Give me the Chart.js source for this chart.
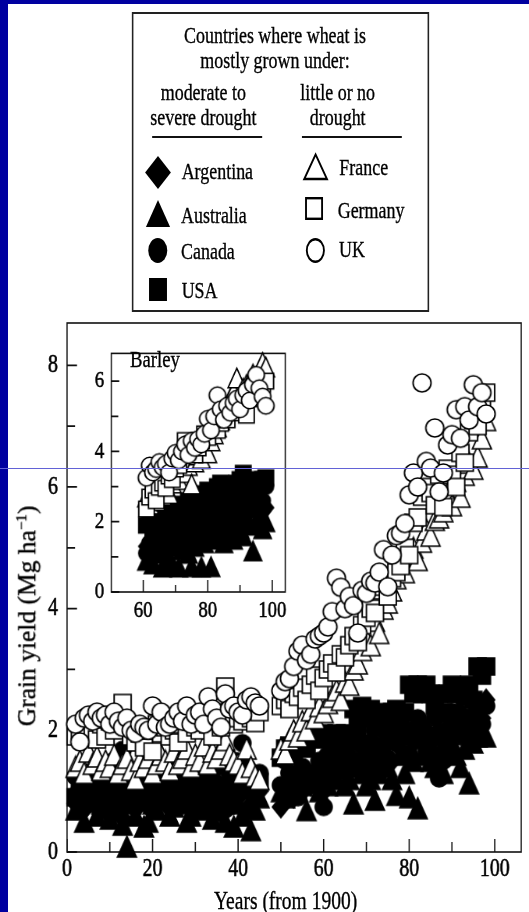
<!DOCTYPE html>
<html>
<head>
<meta charset="utf-8">
<script src="https://cdn.jsdelivr.net/npm/chart.js@4.4.1/dist/chart.umd.min.js"></script>
<style>
html,body{margin:0;padding:0;background:#0000a0;width:529px;height:912px;overflow:hidden;position:relative;}
#panel{position:absolute;left:8px;top:4px;width:521px;height:908px;background:#fff;}
#wrap{position:absolute;left:0;top:0;width:678px;height:912px;transform:scaleX(0.78024);transform-origin:0 0;}
.t{position:absolute;font-family:"Liberation Serif","Times New Roman",serif;color:#000;white-space:nowrap;line-height:1;-webkit-text-stroke:0.35px #000;}
.c{transform:translate(-50%,-50%);}
.l{transform:translateY(-50%);}
#legbox{position:absolute;left:169.2px;top:12px;width:380.7px;height:300px;border:2px solid #222;box-sizing:border-box;}
.rule{position:absolute;height:2.5px;background:#111;}
svg.sym{position:absolute;overflow:visible;}
#mainc{position:absolute;left:0;top:0;}
#insetc{position:absolute;left:89.7px;top:330px;}
#ytitle{position:absolute;left:27px;top:616px;font-family:"Liberation Serif","Times New Roman",serif;font-size:25.5px;line-height:1;white-space:nowrap;-webkit-text-stroke:0.35px #000;transform:translate(-50%,-50%) rotate(-90deg);}
#ytitle sup{font-size:15px;line-height:0;vertical-align:9px;}
#hline{position:absolute;left:0;top:467.5px;width:529px;height:1px;background:#6262d6;}
</style>
</head>
<body>
<div id="panel"></div>
<div id="wrap">
  <div id="legbox"></div>
  <div class="t c" style="left:352.5px;top:35px;font-size:23px;">Countries where wheat is</div>
  <div class="t c" style="left:352.5px;top:60px;font-size:23px;">mostly grown under:</div>
  <div class="t c" style="left:260.6px;top:92px;font-size:23px;">moderate to</div>
  <div class="t c" style="left:260.6px;top:117px;font-size:23px;">severe drought</div>
  <div class="t c" style="left:432.8px;top:92px;font-size:23px;">little or no</div>
  <div class="t c" style="left:432.8px;top:117px;font-size:23px;">drought</div>
  <div class="rule" style="left:194.8px;top:135.5px;width:141px;"></div>
  <div class="rule" style="left:387.1px;top:135.5px;width:128.2px;"></div>

  <svg class="sym" style="left:186px;top:155.5px;" width="33" height="33"><polygon points="16.5,0 33,16.5 16.5,33 0,16.5" fill="#000"/></svg>
  <svg class="sym" style="left:187.1px;top:199.5px;" width="31" height="27"><polygon points="15.5,0 31,27 0,27" fill="#000"/></svg>
  <svg class="sym" style="left:190.3px;top:237.5px;" width="24.4" height="25"><ellipse cx="12.2" cy="12.5" rx="12.2" ry="12.5" fill="#000"/></svg>
  <svg class="sym" style="left:191px;top:277.5px;" width="23" height="23"><rect x="0" y="0" width="23" height="23" fill="#000"/></svg>

  <svg class="sym" style="left:389.1px;top:152.5px;" width="31" height="27"><polygon points="15.5,1.5 30,26 1,26" fill="#fff" stroke="#000" stroke-width="2.4"/></svg>
  <svg class="sym" style="left:391.4px;top:197.2px;" width="23" height="23"><rect x="1.2" y="1.2" width="20.6" height="20.6" fill="#fff" stroke="#000" stroke-width="2.4"/></svg>
  <svg class="sym" style="left:391.6px;top:237.5px;" width="24.4" height="25"><ellipse cx="12.2" cy="12.5" rx="11" ry="11.3" fill="#fff" stroke="#000" stroke-width="2.4"/></svg>

  <div class="t l" style="left:232.8px;top:171px;font-size:23px;">Argentina</div>
  <div class="t l" style="left:232px;top:214.7px;font-size:23px;">Australia</div>
  <div class="t l" style="left:232px;top:251.3px;font-size:23px;">Canada</div>
  <div class="t l" style="left:232.8px;top:289.7px;font-size:23px;">USA</div>
  <div class="t l" style="left:434.9px;top:167px;font-size:23px;">France</div>
  <div class="t l" style="left:432.8px;top:210px;font-size:23px;">Germany</div>
  <div class="t l" style="left:434.5px;top:249px;font-size:23px;">UK</div>

  <canvas id="mainc" width="678" height="912"></canvas>
  <canvas id="insetc" width="290" height="300"></canvas>
  <div class="t l" style="left:166.6px;top:359px;font-size:24px;">Barley</div>
  <div class="t c" style="left:366px;top:900px;font-size:25px;">Years (from 1900)</div>
</div>
<div id="ytitle">Grain yield (Mg ha<sup>−1</sup>)</div>
<div id="hline"></div>

<script>
// ---------------- data: wheat (main panel) ----------------
const wheatYears = [2,3,4,5,6,7,8,9,10,11,12,13,14,15,16,17,18,19,20,21,22,23,24,25,26,27,28,29,30,31,32,33,34,35,36,37,38,39,40,41,42,43,44,45,
  50,51,52,53,54,55,56,57,58,59,60,61,62,63,64,65,66,67,68,69,70,71,72,73,74,75,76,77,78,79,80,81,82,83,84,85,86,87,88,89,90,91,92,93,94,95,96,97,98];

const wheatUK = [2.1,1.81,2.2,2.25,2.15,2.3,2.2,2.25,2.1,2.3,2.15,2.05,2.2,2.0,1.95,2.1,2.05,2.0,2.4,2.1,2.3,2.05,2.1,2.2,2.3,2.15,2.4,2.1,2.25,2.3,2.1,2.55,2.35,2.2,2.05,2.6,2.35,2.4,2.3,2.25,2.5,2.55,2.45,2.4,
  2.65,2.8,2.85,3.05,3.3,3.4,3.15,3.25,3.5,3.55,3.6,3.7,3.95,4.5,4.35,4.0,4.2,4.05,3.6,4.3,4.25,4.45,4.42,4.6,4.97,4.36,4.88,5.2,5.24,5.4,5.87,6.23,6.0,7.71,6.42,6.31,6.97,5.92,6.23,6.69,6.86,7.27,6.8,7.32,7.1,7.68,7.32,7.55,7.2];

const wheatGermany = [1.9,2.0,2.05,1.95,2.0,1.85,2.1,1.9,2.15,2.0,2.2,2.45,2.1,1.9,1.8,1.95,1.72,2.0,1.65,2.1,1.95,2.05,1.9,2.0,1.8,2.1,1.95,2.15,2.05,2.0,2.2,2.1,1.9,2.25,2.05,2.72,2.3,2.1,2.2,2.15,2.35,2.2,2.12,2.3,
  2.4,2.5,2.35,2.6,2.55,2.7,2.5,2.75,2.9,2.65,2.86,3.0,3.1,2.95,3.25,3.2,3.4,3.55,3.45,3.73,3.85,4.0,3.93,4.3,4.36,4.2,4.5,4.6,4.7,5.0,4.88,5.41,5.5,5.84,6.0,5.9,5.7,6.2,5.67,6.3,6.2,6.0,6.56,6.4,6.9,7.1,7.0,7.3,7.55];

const wheatFrance = [1.4,1.5,1.3,1.65,1.45,1.57,1.35,1.5,1.4,1.6,1.3,1.45,1.55,1.35,1.2,1.5,1.4,1.55,1.3,1.45,1.6,1.5,1.35,1.65,1.45,1.55,1.7,1.4,1.6,1.5,1.75,1.45,1.65,1.55,1.7,1.84,1.6,1.5,1.45,1.3,1.7,1.4,1.25,1.2,
  1.7,1.62,1.85,2.0,1.9,2.15,2.0,2.33,2.2,2.4,2.3,2.45,2.55,2.66,2.5,2.8,2.75,3.0,3.1,3.32,3.5,3.4,3.8,3.6,4.0,4.1,4.3,4.5,4.85,4.6,4.9,5.0,4.8,5.1,5.3,5.2,5.46,5.5,5.6,5.9,5.7,6.1,5.84,6.2,6.4,6.3,6.5,6.8,7.1];

const wheatUSA = [0.9,0.85,0.95,1.0,0.9,0.8,1.0,0.95,0.85,1.05,0.9,0.95,0.8,0.9,1.0,0.85,0.9,1.0,0.95,0.9,0.85,1.0,0.9,1.0,1.1,0.95,1.0,0.9,1.05,1.0,0.85,0.8,0.9,0.95,1.0,1.1,1.05,1.2,1.1,1.15,1.25,1.1,1.2,1.15,
  1.55,1.7,1.75,1.6,1.8,1.75,1.7,1.95,1.9,1.85,1.95,1.9,1.75,1.95,1.8,1.95,1.9,2.35,2.1,2.4,2.2,2.35,2.2,2.3,2.1,2.2,2.3,2.35,2.25,2.3,2.75,2.6,2.75,2.6,2.75,2.6,2.4,2.6,2.3,2.6,2.75,2.6,2.65,2.55,2.75,2.5,3.05,2.9,3.05];

const wheatCanada = [1.24,1.1,1.3,0.9,1.2,1.4,1.0,1.3,1.2,1.5,1.1,1.68,1.0,1.3,1.2,0.9,1.1,1.4,1.2,1.0,1.3,1.35,1.2,1.1,1.4,1.25,1.0,1.3,1.2,0.8,1.1,1.3,1.2,1.4,1.0,0.7,1.3,1.5,1.2,1.79,1.4,1.1,1.2,1.3,
  1.1,1.5,1.3,1.2,0.9,1.4,1.2,1.3,1.1,1.5,0.74,1.6,1.4,1.7,1.5,1.6,1.8,1.4,1.9,1.5,1.3,1.8,2.0,1.7,1.6,1.9,2.0,1.8,2.1,1.9,1.6,2.0,2.2,2.0,1.7,1.9,2.2,1.21,1.5,2.0,2.3,2.1,1.9,2.2,2.0,1.8,2.3,2.1,2.4];

const wheatArgentina = [0.8,0.9,0.7,1.0,0.85,1.1,0.75,0.95,0.6,0.9,1.0,0.55,0.8,0.95,0.7,1.0,0.85,0.75,1.1,0.9,1.05,0.8,0.95,1.1,0.85,1.0,0.9,1.15,0.75,0.95,1.05,0.7,1.0,0.85,0.65,0.95,1.1,0.8,0.9,1.0,0.7,0.95,0.85,1.0,
  0.74,1.0,1.1,0.9,1.2,1.0,1.3,1.1,1.2,1.4,1.0,1.3,1.2,1.5,1.4,1.3,1.6,1.5,1.4,1.7,1.6,1.5,1.4,1.7,1.6,1.8,1.5,1.9,1.7,2.0,1.6,1.8,2.1,1.9,2.0,1.7,1.9,2.0,1.8,2.2,1.9,2.1,2.3,2.0,2.2,2.1,2.4,2.2,2.5];

const wheatAustralia = [0.7,1.2,0.5,0.9,1.1,0.6,0.8,1.0,0.55,0.9,0.7,0.45,0.09,0.8,0.6,1.0,0.42,0.5,0.8,0.7,1.2,0.9,0.6,0.75,1.1,0.8,0.5,0.6,0.9,0.7,1.0,0.85,0.55,0.7,0.9,0.5,1.1,0.42,0.8,0.6,1.2,0.36,0.7,0.9,
  1.0,0.9,1.1,1.2,1.0,1.1,0.69,1.2,1.3,1.0,1.2,1.1,1.3,1.2,1.4,1.1,1.2,0.8,1.4,1.3,1.1,1.2,0.86,1.3,1.5,1.4,1.2,0.94,1.6,1.3,0.9,1.5,0.72,1.6,1.7,1.5,1.4,1.6,1.3,1.7,1.8,1.6,1.4,1.7,1.13,1.8,1.9,2.0,1.9];

// ---------------- data: barley (inset) ----------------
const barleyYears = [61,62,63,64,65,66,67,68,69,70,71,72,73,74,75,76,77,78,79,80,81,82,83,84,85,86,87,88,89,90,91,92,93,94,95,96,97,98];
const barleyUK = [3.25,3.6,3.4,3.5,3.7,3.55,3.65,3.4,3.8,3.96,3.75,4.0,4.2,3.9,4.3,4.1,4.35,4.2,4.5,4.93,4.6,5.0,5.6,5.2,4.9,5.3,5.1,5.38,5.5,5.2,5.6,5.73,5.45,5.9,6.18,5.8,5.56,5.3];
const barleyGermany = [2.36,2.7,2.9,2.6,2.98,3.1,2.95,3.3,3.2,3.5,3.6,3.9,4.31,4.0,4.2,3.9,4.1,4.3,4.5,4.4,4.7,4.9,4.6,4.8,5.0,4.9,5.2,5.1,5.3,5.4,5.2,5.03,5.5,5.6,5.8,5.7,5.9,6.0];
const barleyFrance = [2.7,2.5,2.8,2.6,2.9,2.75,3.0,2.8,3.1,3.3,3.2,3.5,3.4,3.6,3.07,3.7,3.9,3.8,4.1,3.96,4.3,4.5,4.7,4.9,5.1,5.3,5.5,5.7,6.09,5.6,5.8,5.9,6.0,6.2,6.1,6.3,6.53,6.4];
const barleyUSA = [1.9,2.0,1.8,2.1,2.0,2.2,2.3,2.1,2.4,2.2,2.5,2.4,2.3,2.6,2.4,2.5,2.7,2.6,2.8,2.9,2.7,2.8,3.0,3.1,2.8,2.9,3.0,2.8,3.1,3.2,3.38,3.0,3.1,2.9,3.2,3.1,3.2,3.25];
const barleyCanada = [1.1,1.4,1.6,1.3,1.8,1.5,1.9,2.0,1.7,2.1,2.3,1.9,2.2,2.4,2.0,2.3,2.6,2.2,2.5,2.7,2.4,2.2,2.6,2.8,2.5,2.9,2.7,2.3,2.6,2.9,2.8,2.5,2.7,3.0,2.8,2.9,2.6,3.0];
const barleyArgentina = [1.3,1.1,1.5,1.2,1.6,1.4,1.2,1.7,1.5,1.3,1.8,1.6,1.4,1.9,1.7,1.5,2.0,1.8,1.6,2.1,1.9,1.7,2.2,2.0,1.8,2.3,2.1,2.4,2.0,2.5,2.2,2.6,2.3,2.4,2.7,2.5,2.3,2.4];
const barleyAustralia = [0.9,1.0,0.8,1.2,1.1,0.71,1.3,1.0,0.75,1.4,0.71,1.2,1.5,1.1,0.72,1.3,1.6,0.71,1.4,1.7,0.72,1.5,1.8,1.6,1.4,1.9,1.7,1.5,2.0,1.8,1.6,2.1,1.9,1.17,2.0,2.2,1.8,2.0];

// ---------------- axis ticks ----------------
const mainXTicks = [0,20,40,60,80,100];
const mainXMinor = [10,30,50,70,90];
const mainYTicks = [0,2,4,6,8];
const mainYMinor = [1,3,5,7];
const insetXTicks = [60,80,100];
const insetXMinor = [70,90];
const insetYTicks = [0,2,4,6];
const insetYMinor = [1,3,5];

// ---------------- rendering ----------------
const S = 529/678;   // horizontal condensation of the whole figure
function marker(shape, filled, w, h){
  const c = document.createElement('canvas');
  const W = Math.ceil(w/S + 4), H = Math.ceil(h + 4);
  c.width = W; c.height = H;
  const g = c.getContext('2d');
  g.translate(W/2, H/2);
  g.scale(1/S, 1);
  g.beginPath();
  if (shape === 'circle') g.ellipse(0, 0, w/2, h/2, 0, 0, Math.PI*2);
  else if (shape === 'square') g.rect(-w/2, -h/2, w, h);
  else if (shape === 'triangle') { g.moveTo(0, -h/2); g.lineTo(w/2, h/2); g.lineTo(-w/2, h/2); g.closePath(); }
  else if (shape === 'diamond') { g.moveTo(0, -h/2); g.lineTo(w/2, 0); g.lineTo(0, h/2); g.lineTo(-w/2, 0); g.closePath(); }
  g.fillStyle = filled ? '#000' : '#fff';
  g.fill();
  g.lineWidth = 1.5; g.strokeStyle = '#000'; g.stroke();
  return c;
}
const M = {
  uk: marker('circle', false, 18, 18),
  ger: marker('square', false, 17, 17),
  fra: marker('triangle', false, 19, 21),
  usa: marker('square', true, 17, 17),
  can: marker('circle', true, 17, 17),
  arg: marker('diamond', true, 17, 21),
  aus: marker('triangle', true, 19, 21)
};
const Mi = {
  uk: marker('circle', false, 16.5, 16.5),
  ger: marker('square', false, 15.5, 15.5),
  fra: marker('triangle', false, 17.5, 19.5),
  usa: marker('square', true, 15.5, 15.5),
  can: marker('circle', true, 15.5, 15.5),
  arg: marker('diamond', true, 15.5, 19.5),
  aus: marker('triangle', true, 17.5, 19.5)
};

function pts(xs, ys){ return xs.map((x, i) => ({x: x, y: ys[i]})); }
function ds(label, xs, ys, img){
  return {label: label, data: pts(xs, ys), pointStyle: img, pointRadius: 9, clip: false, showLine: false};
}

const framePlugin = {
  id: 'frame',
  beforeDatasetsDraw(chart, args, o){
    const {ctx, chartArea: a, scales: {x, y}} = chart;
    ctx.save();
    ctx.strokeStyle = '#111';
    ctx.lineWidth = o.lw;
    ctx.strokeRect(a.left, a.top, a.right - a.left, a.bottom - a.top);
    ctx.beginPath();
    o.xMaj.forEach(v => { const p = x.getPixelForValue(v); ctx.moveTo(p, a.bottom); ctx.lineTo(p, a.bottom - o.xMajLen); });
    o.xMin.forEach(v => { const p = x.getPixelForValue(v); ctx.moveTo(p, a.bottom); ctx.lineTo(p, a.bottom - o.xMinLen); });
    ctx.stroke();
    ctx.beginPath();
    ctx.lineWidth = o.lw * 1.1;
    o.yMaj.forEach(v => { const p = y.getPixelForValue(v); ctx.moveTo(a.left, p); ctx.lineTo(a.left + o.yMajLen, p); });
    o.yMin.forEach(v => { const p = y.getPixelForValue(v); ctx.moveTo(a.left, p); ctx.lineTo(a.left + o.yMinLen, p); });
    ctx.stroke();
    ctx.restore();
  }
};

function scaleOpts(min, max, ticks, size, pad, fit){
  return {
    type: 'linear', min: min, max: max,
    grid: {display: false, drawTicks: false},
    border: {display: false},
    afterBuildTicks: s => { s.ticks = ticks.map(v => ({value: v})); },
    afterFit: fit,
    ticks: {font: {family: 'Liberation Serif', size: size}, color: '#000', padding: pad, autoSkip: false, maxRotation: 0,
            textStrokeColor: '#000', textStrokeWidth: 0.6}
  };
}

new Chart(document.getElementById('mainc'), {
  type: 'scatter',
  data: {datasets: [
    ds('UK', wheatYears, wheatUK, M.uk),
    ds('Germany', wheatYears, wheatGermany, M.ger),
    ds('France', wheatYears, wheatFrance, M.fra),
    ds('USA', wheatYears, wheatUSA, M.usa),
    ds('Canada', wheatYears, wheatCanada, M.can),
    ds('Australia', wheatYears, wheatAustralia, M.aus),
    ds('Argentina', wheatYears, wheatArgentina, M.arg)
  ]},
  options: {
    responsive: false, animation: false, events: [],
    layout: {padding: {left: 0, top: 323, right: 1.3, bottom: 0}},
    plugins: {legend: {display: false}, tooltip: {enabled: false},
      frame: {lw: 1.6, xMaj: mainXTicks, xMin: mainXMinor, yMaj: mainYTicks, yMin: mainYMinor,
              xMajLen: 13, xMinLen: 10, yMajLen: 10/S, yMinLen: 8/S}},
    scales: {
      x: scaleOpts(0, 106.2, mainXTicks, 25.5, 2, s => { s.height = 60; }),
      y: scaleOpts(0, 8.695, mainYTicks, 25.5, 11.6, s => { s.width = 85.9; })
    }
  },
  plugins: [framePlugin]
});

new Chart(document.getElementById('insetc'), {
  type: 'scatter',
  data: {datasets: [
    ds('UK', barleyYears, barleyUK, Mi.uk),
    ds('Germany', barleyYears, barleyGermany, Mi.ger),
    ds('France', barleyYears, barleyFrance, Mi.fra),
    ds('USA', barleyYears, barleyUSA, Mi.usa),
    ds('Canada', barleyYears, barleyCanada, Mi.can),
    ds('Australia', barleyYears, barleyAustralia, Mi.aus),
    ds('Argentina', barleyYears, barleyArgentina, Mi.arg)
  ]},
  options: {
    responsive: false, animation: false, events: [],
    layout: {padding: {left: 0, top: 7, right: 14.4, bottom: 0}},
    plugins: {legend: {display: false}, tooltip: {enabled: false},
      frame: {lw: 1.6, xMaj: insetXTicks, xMin: insetXMinor, yMaj: insetYTicks, yMin: insetYMinor,
              xMajLen: 12, xMinLen: 7, yMajLen: 8/S, yMinLen: 7/S}},
    scales: {
      x: scaleOpts(50.08, 104.03, insetXTicks, 24, 4.5, s => { s.height = 38; }),
      y: scaleOpts(0, 6.79, insetYTicks, 24, 9, s => { s.width = 52.6; })
    }
  },
  plugins: [framePlugin]
});
</script>
</body>
</html>
